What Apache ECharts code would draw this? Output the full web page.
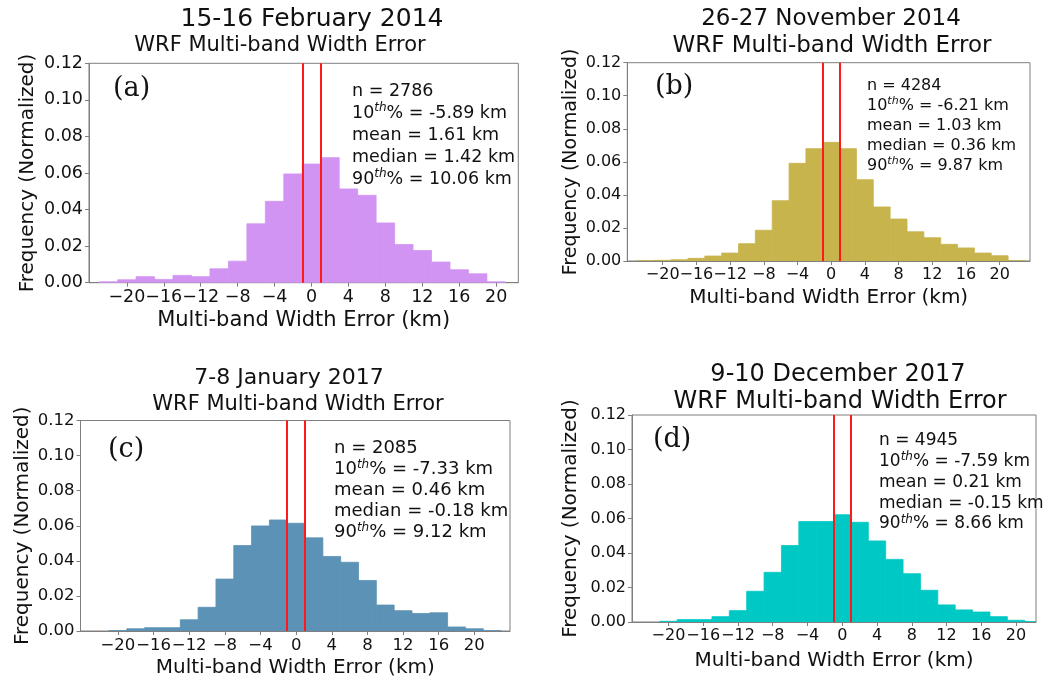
<!DOCTYPE html>
<html><head><meta charset="utf-8">
<script src="https://cdn.jsdelivr.net/npm/echarts@6/dist/echarts.min.js"></script>
<style>html,body{margin:0;padding:0;background:#fff}#c{width:1046px;height:679px}</style>
</head><body><div id="c"></div>
<script>
// ---------- data ----------
const binLeft  = [-23,-21,-19,-17,-15,-13,-11,-9,-7,-5,-3,-1,1,3,5,7,9,11,13,15,17,19,21];
const binRight = [-21,-19,-17,-15,-13,-11,-9,-7,-5,-3,-1,1,3,5,7,9,11,13,15,17,19,21,23];
const xTickValues = [-20,-16,-12,-8,-4,0,4,8,12,16,20];
const redLines = [-1, 1];
const titleLine1 = ['15-16 February 2014','26-27 November 2014','7-8 January 2017','9-10 December 2017'];
const titleLine2 = 'WRF Multi-band Width Error';
const panelLetters = ['(a)','(b)','(c)','(d)'];
const xName = 'Multi-band Width Error (km)';
const yName = 'Frequency (Normalized)';
const valuesA = [0.0005,0.0016,0.0033,0.0018,0.0040,0.0033,0.0076,0.0118,0.0322,0.0445,0.0595,0.0649,0.0684,0.0513,0.0478,0.0327,0.0209,0.0176,0.0113,0.0071,0.0049,0.0005,0];
const valuesB = [0.0002,0.0004,0.0008,0.0016,0.0030,0.0048,0.0105,0.0186,0.0365,0.0591,0.0680,0.0718,0.0680,0.0492,0.0327,0.0254,0.0177,0.0141,0.0101,0.0079,0.0048,0.0032,0.0002];
const valuesC = [0,0.0002,0.0013,0.0019,0.0019,0.0064,0.0135,0.0296,0.0487,0.0599,0.0633,0.0614,0.0531,0.0425,0.0392,0.0288,0.0148,0.0116,0.0100,0.0104,0.0023,0.0013,0.0002];
const valuesD = [0,0.0004,0.0014,0.0014,0.0031,0.0066,0.0178,0.0288,0.0443,0.0582,0.0582,0.0622,0.0578,0.0470,0.0363,0.0280,0.0184,0.0099,0.0070,0.0058,0.0031,0.0010,0.0002];
const statsN = ['2786','4284','2085','4945'];
const stats10 = ['-5.89','-6.21','-7.33','-7.59'];
const statsMean = ['1.61','1.03','0.46','0.21'];
const statsMedian = ['1.42','0.36','-0.18','-0.15'];
const stats90 = ['10.06','9.87','9.12','8.66'];
const barColors = ['#d294f3','#c8b44c','#5b92b5','#00c8c4'];
const allValues = [valuesA, valuesB, valuesC, valuesD];

// ---------- layout (pixels) ----------
const layout = [
  {l:89, t:63.3, r:518.3, b:282.7, xmin:-24.1, xmax:22.4, tick:17.5, nameFs:21, yNameFs:20, xGap:27, yGap:51,
   t1:{x:312,y:19,fs:25}, t2:{x:280,y:46,fs:21}, letter:{x:113,y:89,fs:27}, stats:{x:352,y:91,fs:17.5,lh:22}},
  {l:627.3, t:62.7, r:1030, b:261, xmin:-24.2, xmax:23.6, tick:16, nameFs:20, yNameFs:19, xGap:27, yGap:47,
   t1:{x:831,y:19,fs:23}, t2:{x:832,y:46,fs:23}, letter:{x:655,y:87,fs:27}, stats:{x:867,y:86,fs:16,lh:20}},
  {l:80.5, t:420.5, r:510, b:632.7, xmin:-24.2, xmax:24.0, tick:16.5, nameFs:20, yNameFs:20, xGap:27, yGap:48,
   t1:{x:289,y:378,fs:22}, t2:{x:298,y:405,fs:21}, letter:{x:108,y:450,fs:27}, stats:{x:334,y:448,fs:18,lh:21}},
  {l:632, t:415, r:1036, b:622, xmin:-24.2, xmax:22.3, tick:16, nameFs:20, yNameFs:20, xGap:29, yGap:51,
   t1:{x:838,y:375,fs:24}, t2:{x:840,y:402,fs:24}, letter:{x:653,y:440,fs:27}, stats:{x:879,y:441,fs:17,lh:20.7}}
];

const FONT = 'DejaVu Sans';
const minus = s => String(s).replace('-', '\u2212');

const grid = [], xAxis = [], yAxis = [], series = [], graphic = [];
layout.forEach((p, i) => {
  grid.push({left:p.l, top:p.t, width:p.r - p.l, height:p.b - p.t, show:true, borderColor:'#7f7f7f', borderWidth:1, containLabel:false});
  xAxis.push({
    type:'value', gridIndex:i, min:p.xmin, max:p.xmax,
    name:xName, nameLocation:'middle', nameGap:p.xGap,
    nameTextStyle:{fontFamily:FONT, fontSize:p.nameFs, color:'#111', verticalAlign:'top'},
    axisLine:{show:true, onZero:false, lineStyle:{color:'#7f7f7f', width:1}},
    axisTick:{show:true, length:4, lineStyle:{color:'#7f7f7f'}, customValues:xTickValues},
    axisLabel:{fontFamily:FONT, fontSize:p.tick, color:'#111', margin:6, customValues:xTickValues, formatter:v => minus(v)},
    splitLine:{show:false}
  });
  yAxis.push({
    type:'value', gridIndex:i, min:0, max:0.12, interval:0.02,
    name:yName, nameLocation:'middle', nameGap:p.yGap, nameRotate:90,
    nameTextStyle:{fontFamily:FONT, fontSize:p.yNameFs, color:'#111'},
    axisLine:{show:true, onZero:false, lineStyle:{color:'#7f7f7f', width:1}},
    axisTick:{show:true, length:4, lineStyle:{color:'#7f7f7f'}},
    axisLabel:{fontFamily:FONT, fontSize:p.tick, color:'#111', margin:6, formatter:v => v.toFixed(2)},
    splitLine:{show:false}
  });
  const vals = allValues[i];
  series.push({
    type:'custom', xAxisIndex:i, yAxisIndex:i, silent:true, clip:true,
    data: vals.map((v, k) => [binLeft[k], binRight[k], v]),
    encode:{x:[0,1], y:2},
    renderItem: (params, api) => {
      if (!(api.value(2) > 0)) return null;
      const p0 = api.coord([api.value(0), api.value(2)]);
      const p1 = api.coord([api.value(1), 0]);
      return {type:'rect', shape:{x:p0[0], y:p0[1], width:p1[0]-p0[0], height:p1[1]-p0[1]},
              style:{fill:barColors[i], stroke:barColors[i], lineWidth:0.8}};
    },
    markLine:{silent:true, symbol:'none', label:{show:false},
      lineStyle:{color:'#ff1a1a', width:2, type:'solid'},
      data: redLines.map(x => ({xAxis:x}))},
    z:2
  });
  graphic.push({type:'text', style:{text:titleLine1[i], x:p.t1.x, y:p.t1.y, align:'center', verticalAlign:'middle', font:`${p.t1.fs}px "${FONT}"`, fill:'#111'}});
  graphic.push({type:'text', style:{text:titleLine2, x:p.t2.x, y:p.t2.y, align:'center', verticalAlign:'middle', font:`${p.t2.fs}px "${FONT}"`, fill:'#111'}});
  graphic.push({type:'text', z:10, style:{text:panelLetters[i], x:p.letter.x, y:p.letter.y, align:'left', verticalAlign:'middle', font:`${p.letter.fs}px "DejaVu Serif"`, fill:'#111'}});
  const s = p.stats;
  const supFs = Math.round(s.fs * 0.68);
  const txt = [
    `n = ${statsN[i]}`,
    `10{sup|th}% = ${stats10[i]} km`,
    `mean = ${statsMean[i]} km`,
    `median = ${statsMedian[i]} km`,
    `90{sup|th}% = ${stats90[i]} km`
  ].join('\n');
  graphic.push({type:'text', z:10, style:{text:txt, x:s.x, y:s.y - s.lh/2, align:'left', verticalAlign:'top',
    fontFamily:FONT, fontSize:s.fs, lineHeight:s.lh, fill:'#111',
    rich:{sup:{fontFamily:FONT, fontSize:supFs, fontStyle:'italic', lineHeight:s.lh*0.55, verticalAlign:'top', fill:'#111'}}}});
});

const chart = echarts.init(document.getElementById('c'), null, {renderer:'canvas'});
chart.setOption({animation:false, backgroundColor:'#fff', grid, xAxis, yAxis, series, graphic});
</script>
</body></html>
